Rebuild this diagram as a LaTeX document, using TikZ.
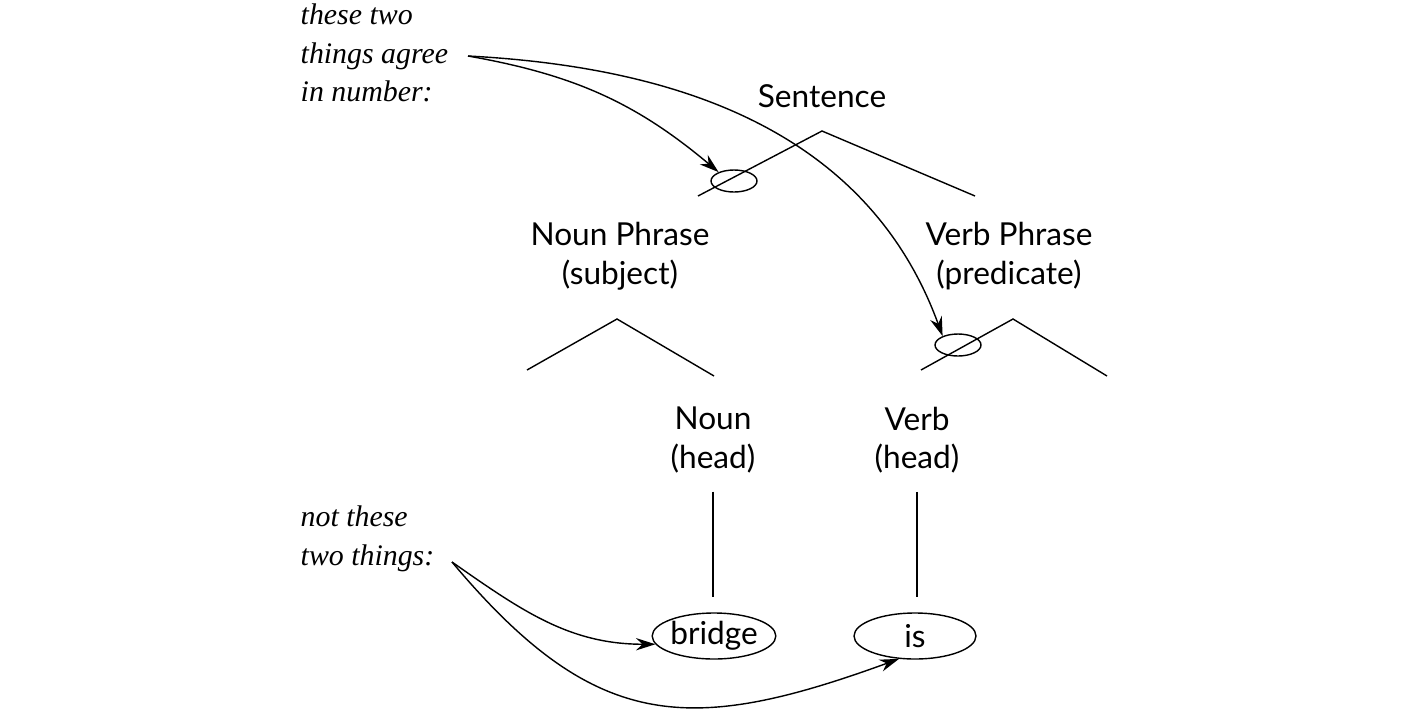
\documentclass[tikz,border=0pt]{standalone}
\usepackage{fontspec}
\setsansfont{Lato}
\newfontfamily\notefont{Liberation Serif}
\usetikzlibrary{shapes.geometric,arrows.meta}

\begin{document}
\begin{tikzpicture}[x=0.02cm,y=-0.02cm,line width=0.8pt,
    lbl/.style={font=\sffamily\fontsize{18}{22}\selectfont,align=center},
    note/.style={font=\notefont\itshape\fontsize{17}{22}\selectfont,align=left,anchor=north west,inner sep=0pt},
    agreemark/.style={draw,ellipse,minimum width=0.92cm,minimum height=0.44cm,inner sep=0pt},
    word/.style={draw,ellipse,minimum width=2.44cm,minimum height=0.92cm,inner sep=0pt,font=\sffamily\fontsize{18}{22}\selectfont},
    pointer/.style={-{Stealth[length=11pt,width=7pt]}}]
    \useasboundingbox (0,0) rectangle (1409,714);
    % tree labels
    \node[lbl] (sent) at (822,96) {Sentence};
    \node[lbl] (np) at (620,256) {Noun Phrase\\(subject)};
    \node[lbl] (vp) at (1009,256) {Verb Phrase\\(predicate)};
    \node[lbl] (noun) at (713,440) {Noun\\(head)};
    \node[lbl] (verb) at (917,440) {Verb\\(head)};
    \node[word] (bridge) at (714,636) {bridge};
    \node[word] (is) at (915,636) {is};
    % branches
    \coordinate (stop) at (822,131);
    \coordinate (npop) at (617,319);
    \coordinate (vpop) at (1013,319);
    \draw (698,196) -- (stop) -- (975,196);
    \draw (527,370) -- (npop) -- (714,376);
    \draw (921,370) -- (vpop) -- (1107,376);
    \draw (noun.south) ++(0,12) -- (713,597);
    \draw (verb.south) ++(0,12) -- (917,597);
    % agreement marks
    \node[agreemark] (subjmark) at (734,181) {};
    \node[agreemark] (predmark) at (958,345) {};
    % notes
    \node[note] (agree) at (300,3) {these two\\things agree\\in number:};
    \node[note] (notagree) at (300,505) {not these\\two things:};
    \coordinate (agreefrom) at (468,56);
    \coordinate (notfrom) at (452,562);
    \draw[pointer] (agreefrom) to[out=-10,in=140] (subjmark.150);
    \draw[pointer] (agreefrom) to[out=-3,in=110] (predmark.150);
    \draw[pointer] (notfrom) to[out=-35,in=180] (bridge.188);
    \draw[pointer] (notfrom) to[out=-50,in=200,looseness=1.25] (is.235);
\end{tikzpicture}
\end{document}
